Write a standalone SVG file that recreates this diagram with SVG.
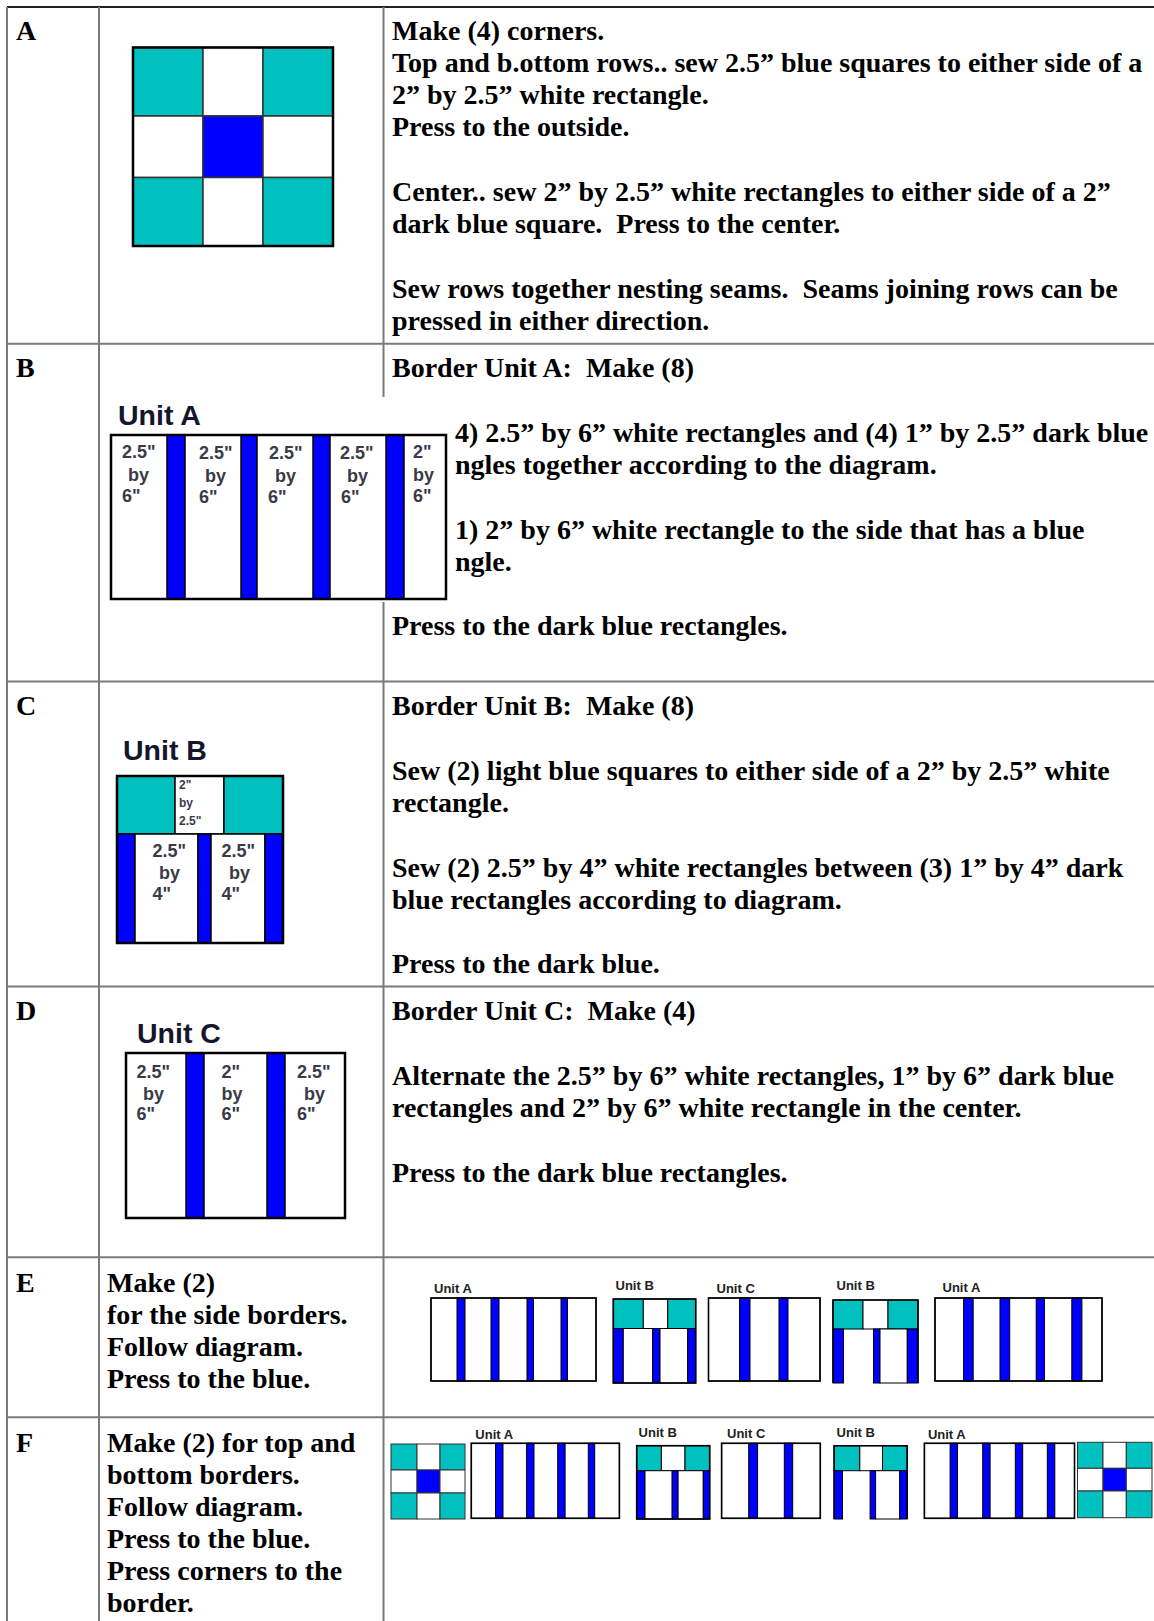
<svg xmlns="http://www.w3.org/2000/svg" width="1154" height="1621" viewBox="0 0 1154 1621">
<style>
.grid{stroke:#7a7a7a;stroke-width:2;fill:none}
.topline{stroke:#222;stroke-width:2}
.t{font-family:"Liberation Serif","Times New Roman",serif;font-weight:bold;font-size:28px;fill:#000;white-space:pre}
.u{font-family:"Liberation Sans",Arial,sans-serif;font-weight:bold;font-size:28.5px;fill:#15152e}
.lab{font-family:"Liberation Sans",Arial,sans-serif;font-weight:bold;font-size:18px;fill:#3a3a48}
.lab11{font-family:"Liberation Sans",Arial,sans-serif;font-weight:bold;font-size:12px;fill:#3a3a48}
.su{font-family:"Liberation Sans",Arial,sans-serif;font-weight:bold;font-size:13px;fill:#222}
.tl{fill:#00c0c0;stroke:#000;stroke-width:1.5}
.bl{fill:#0000ff;stroke:#000;stroke-width:1.5}
.wh{fill:#fff;stroke:#000;stroke-width:1.5}
.ol{fill:none;stroke:#000;stroke-width:2.5}
.cg .tl,.cg .bl,.cg .wh{stroke:#333}
.s .tl,.s .bl,.s .wh{stroke-width:1}
.s .ol{stroke-width:1.6}
.nf{fill:#fff;stroke:none}
</style>
<rect width="1154" height="1621" fill="#fff"/>

<g id="table-grid">
<line class="topline" x1="7" y1="7" x2="1154" y2="7"/>
<line class="grid" x1="7" y1="7" x2="7" y2="1621"/>
<line class="grid" x1="99" y1="7" x2="99" y2="1621"/>
<line class="grid" x1="383.5" y1="7" x2="383.5" y2="397"/>
<line class="grid" x1="383.5" y1="602" x2="383.5" y2="1621"/>
<line class="grid" x1="7" y1="343.7" x2="1154" y2="343.7"/>
<line class="grid" x1="7" y1="681.5" x2="1154" y2="681.5"/>
<line class="grid" x1="7" y1="986.5" x2="1154" y2="986.5"/>
<line class="grid" x1="7" y1="1257.3" x2="1154" y2="1257.3"/>
<line class="grid" x1="7" y1="1417.3" x2="1154" y2="1417.3"/>
</g>

<g id="row-A">
<text class="t" x="16" y="39.5">A</text>
<g id="corner-block-A" class="cg">
<rect class="tl" x="133" y="47.5" width="70" height="68.5"/>
<rect class="wh" x="203" y="47.5" width="60" height="68.5"/>
<rect class="tl" x="263" y="47.5" width="70" height="68.5"/>
<rect class="wh" x="133" y="116" width="70" height="61.5"/>
<rect class="bl" x="203" y="116" width="60" height="61.5"/>
<rect class="wh" x="263" y="116" width="70" height="61.5"/>
<rect class="tl" x="133" y="177.5" width="70" height="68.5"/>
<rect class="wh" x="203" y="177.5" width="60" height="68.5"/>
<rect class="tl" x="263" y="177.5" width="70" height="68.5"/>
<rect class="ol" x="133" y="47.5" width="200" height="198.5"/>
</g>
<text class="t" x="392" y="39.5">Make (4) corners.</text>
<text class="t" x="392" y="71.8">Top and b.ottom rows.. sew 2.5” blue squares to either side of a</text>
<text class="t" x="392" y="104.1">2” by 2.5” white rectangle.</text>
<text class="t" x="392" y="136.4">Press to the outside.</text>
<text class="t" x="392" y="201">Center.. sew 2” by 2.5” white rectangles to either side of a 2”</text>
<text class="t" x="392" y="233.3">dark blue square.  Press to the center.</text>
<text class="t" x="392" y="297.9">Sew rows together nesting seams.  Seams joining rows can be</text>
<text class="t" x="392" y="330.2">pressed in either direction.</text>
</g>

<g id="row-B">
<text class="t" x="16" y="377">B</text>
<g id="unit-A-large">
<text class="u" x="118" y="425">Unit A</text>
<rect class="wh" x="111" y="435" width="335" height="164"/>
<rect class="bl" x="167" y="435" width="18" height="164"/>
<rect class="bl" x="241" y="435" width="16" height="164"/>
<rect class="bl" x="313" y="435" width="17" height="164"/>
<rect class="bl" x="386" y="435" width="18" height="164"/>
<rect class="ol" x="111" y="435" width="335" height="164"/>
<text class="lab" x="122" y="458">2.5"</text><text class="lab" x="128" y="480.5">by</text><text class="lab" x="122" y="502">6"</text>
<text class="lab" x="199" y="459">2.5"</text><text class="lab" x="205" y="481.5">by</text><text class="lab" x="199" y="503">6"</text>
<text class="lab" x="269" y="459">2.5"</text><text class="lab" x="275" y="481.5">by</text><text class="lab" x="268" y="503">6"</text>
<text class="lab" x="340" y="459">2.5"</text><text class="lab" x="347" y="481.5">by</text><text class="lab" x="341" y="503">6"</text>
<text class="lab" x="413" y="458">2"</text><text class="lab" x="413" y="480.5">by</text><text class="lab" x="413" y="502">6"</text>
</g>
<text class="t" x="392" y="377">Border Unit A:  Make (8)</text>
<text class="t" x="455" y="441.6">4) 2.5” by 6” white rectangles and (4) 1” by 2.5” dark blue</text>
<text class="t" x="455" y="473.9">ngles together according to the diagram.</text>
<text class="t" x="455" y="538.5">1) 2” by 6” white rectangle to the side that has a blue</text>
<text class="t" x="455" y="570.8">ngle.</text>
<text class="t" x="392" y="635.4">Press to the dark blue rectangles.</text>
</g>

<g id="row-C">
<text class="t" x="16" y="715">C</text>
<g id="unit-B-large">
<text class="u" x="123" y="760">Unit B</text>
<rect class="tl" x="117" y="776" width="58" height="58"/>
<rect class="wh" x="175" y="776" width="49" height="58"/>
<rect class="tl" x="224" y="776" width="59" height="58"/>
<rect class="bl" x="117" y="834" width="18" height="109"/>
<rect class="wh" x="135" y="834" width="63" height="109"/>
<rect class="bl" x="198" y="834" width="13" height="109"/>
<rect class="wh" x="211" y="834" width="54" height="109"/>
<rect class="bl" x="265" y="834" width="18" height="109"/>
<rect class="ol" x="117" y="776" width="166" height="167"/>
<text class="lab11" x="179" y="789">2"</text><text class="lab11" x="179" y="806.5">by</text><text class="lab11" x="179" y="825">2.5"</text>
<text class="lab" x="152.5" y="857">2.5"</text><text class="lab" x="159" y="879">by</text><text class="lab" x="152.5" y="900">4"</text>
<text class="lab" x="221.5" y="857">2.5"</text><text class="lab" x="229" y="879">by</text><text class="lab" x="221.5" y="900">4"</text>
</g>
<text class="t" x="392" y="715">Border Unit B:  Make (8)</text>
<text class="t" x="392" y="779.6">Sew (2) light blue squares to either side of a 2” by 2.5” white</text>
<text class="t" x="392" y="811.9">rectangle.</text>
<text class="t" x="392" y="876.5">Sew (2) 2.5” by 4” white rectangles between (3) 1” by 4” dark</text>
<text class="t" x="392" y="908.8">blue rectangles according to diagram.</text>
<text class="t" x="392" y="973.4">Press to the dark blue.</text>
</g>

<g id="row-D">
<text class="t" x="16" y="1019.5">D</text>
<g id="unit-C-large">
<text class="u" x="137" y="1043">Unit C</text>
<rect class="wh" x="126" y="1053" width="219" height="165"/>
<rect class="bl" x="186" y="1053" width="18" height="165"/>
<rect class="bl" x="267" y="1053" width="18" height="165"/>
<rect class="ol" x="126" y="1053" width="219" height="165"/>
<text class="lab" x="136.5" y="1078">2.5"</text><text class="lab" x="143" y="1099.5">by</text><text class="lab" x="136.5" y="1120">6"</text>
<text class="lab" x="221.5" y="1078">2"</text><text class="lab" x="221.5" y="1099.5">by</text><text class="lab" x="221.5" y="1120">6"</text>
<text class="lab" x="297" y="1078">2.5"</text><text class="lab" x="304" y="1099.5">by</text><text class="lab" x="297" y="1120">6"</text>
</g>
<text class="t" x="392" y="1020">Border Unit C:  Make (4)</text>
<text class="t" x="392" y="1084.6">Alternate the 2.5” by 6” white rectangles, 1” by 6” dark blue</text>
<text class="t" x="392" y="1116.9">rectangles and 2” by 6” white rectangle in the center.</text>
<text class="t" x="392" y="1181.5">Press to the dark blue rectangles.</text>
</g>

<g id="row-E">
<text class="t" x="16" y="1292">E</text>
<text class="t" x="107" y="1292">Make (2)</text>
<text class="t" x="107" y="1324">for the side borders.</text>
<text class="t" x="107" y="1356">Follow diagram.</text>
<text class="t" x="107" y="1388">Press to the blue.</text>
<g id="side-border" class="s">
<g id="E-unitA-1">
<text class="su" x="434" y="1293">Unit A</text>
<rect class="wh" x="431" y="1298" width="165" height="83"/>
<rect class="bl" x="457" y="1298" width="8" height="83"/>
<rect class="bl" x="491" y="1298" width="8" height="83"/>
<rect class="bl" x="527" y="1298" width="6.5" height="83"/>
<rect class="bl" x="561" y="1298" width="6.5" height="83"/>
<rect class="ol" x="431" y="1298" width="165" height="83"/>
</g>
<g id="E-unitB-1">
<text class="su" x="615.5" y="1290">Unit B</text>
<rect class="tl" x="613.3" y="1299" width="30" height="29.5"/>
<rect class="wh" x="643.3" y="1299" width="24.4" height="29.5"/>
<rect class="tl" x="667.7" y="1299" width="28" height="29.5"/>
<rect class="bl" x="613.3" y="1328.5" width="10" height="54.5"/>
<rect class="wh" x="623.3" y="1328.5" width="29.4" height="54.5"/>
<rect class="bl" x="652.7" y="1328.5" width="7.3" height="54.5"/>
<rect class="wh" x="660" y="1328.5" width="27.7" height="54.5"/>
<rect class="bl" x="687.7" y="1328.5" width="8" height="54.5"/>
<rect class="ol" x="613.3" y="1299" width="82.4" height="84"/>
</g>
<g id="E-unitC">
<text class="su" x="716.5" y="1292.5">Unit C</text>
<rect class="wh" x="708.5" y="1298" width="111.5" height="83"/>
<rect class="bl" x="739.5" y="1298" width="10.5" height="83"/>
<rect class="bl" x="779" y="1298" width="9" height="83"/>
<rect class="ol" x="708.5" y="1298" width="111.5" height="83"/>
</g>
<g id="E-unitB-2">
<text class="su" x="836.5" y="1290">Unit B</text>
<rect class="nf" x="833" y="1300" width="85" height="83"/>
<rect class="tl" x="833" y="1300" width="30" height="29"/>
<rect class="wh" x="863" y="1300" width="25" height="29"/>
<rect class="tl" x="888" y="1300" width="30" height="29"/>
<rect class="bl" x="833" y="1329" width="10.5" height="54"/>
<rect class="bl" x="873.5" y="1329" width="6.5" height="54"/>
<rect class="wh" x="880" y="1329" width="27.3" height="54"/>
<rect class="bl" x="907.3" y="1329" width="10.7" height="54"/>
<path class="ol" d="M833,1383 V1300 H918 V1383"/>
</g>
<g id="E-unitA-2">
<text class="su" x="942.5" y="1292">Unit A</text>
<rect class="wh" x="935" y="1298" width="167" height="83"/>
<rect class="bl" x="963.6" y="1298" width="9.6" height="83"/>
<rect class="bl" x="1000" y="1298" width="9.7" height="83"/>
<rect class="bl" x="1036.2" y="1298" width="8.2" height="83"/>
<rect class="bl" x="1071.8" y="1298" width="10.1" height="83"/>
<rect class="ol" x="935" y="1298" width="167" height="83"/>
</g>
</g>
</g>

<g id="row-F">
<text class="t" x="16" y="1452">F</text>
<text class="t" x="107" y="1452">Make (2) for top and</text>
<text class="t" x="107" y="1484">bottom borders.</text>
<text class="t" x="107" y="1516">Follow diagram.</text>
<text class="t" x="107" y="1548">Press to the blue.</text>
<text class="t" x="107" y="1580">Press corners to the</text>
<text class="t" x="107" y="1612">border.</text>
<g id="top-border" class="s">
<g id="F-corner-left" class="cg">
<rect class="tl" x="391" y="1444" width="26" height="26"/>
<rect class="wh" x="417" y="1444" width="23" height="26"/>
<rect class="tl" x="440" y="1444" width="25" height="26"/>
<rect class="wh" x="391" y="1470" width="26" height="23"/>
<rect class="bl" x="417" y="1470" width="23" height="23"/>
<rect class="wh" x="440" y="1470" width="25" height="23"/>
<rect class="tl" x="391" y="1493" width="26" height="26"/>
<rect class="wh" x="417" y="1493" width="23" height="26"/>
<rect class="tl" x="440" y="1493" width="25" height="26"/>
</g>
<g id="F-unitA-1">
<text class="su" x="475.3" y="1439.3">Unit A</text>
<rect class="wh" x="471.3" y="1443.3" width="148.1" height="75"/>
<rect class="bl" x="495.5" y="1443.3" width="7.5" height="75"/>
<rect class="bl" x="526.6" y="1443.3" width="7.4" height="75"/>
<rect class="bl" x="557.7" y="1443.3" width="7.4" height="75"/>
<rect class="bl" x="588.3" y="1443.3" width="6.4" height="75"/>
<rect class="ol" x="471.3" y="1443.3" width="148.1" height="75"/>
</g>
<g id="F-unitB-1">
<text class="su" x="638.6" y="1436.7">Unit B</text>
<rect class="tl" x="636.7" y="1445.7" width="24.7" height="25"/>
<rect class="wh" x="661.4" y="1445.7" width="23.6" height="25"/>
<rect class="tl" x="685" y="1445.7" width="24.7" height="25"/>
<rect class="bl" x="636.7" y="1470.7" width="8.3" height="48.3"/>
<rect class="wh" x="645" y="1470.7" width="27.2" height="48.3"/>
<rect class="bl" x="672.2" y="1470.7" width="5.9" height="48.3"/>
<rect class="wh" x="678.1" y="1470.7" width="25.2" height="48.3"/>
<rect class="bl" x="703.3" y="1470.7" width="6.4" height="48.3"/>
<rect class="ol" x="636.7" y="1445.7" width="73" height="73.3"/>
</g>
<g id="F-unitC">
<text class="su" x="727" y="1438.3">Unit C</text>
<rect class="wh" x="721.6" y="1443.3" width="98.7" height="75"/>
<rect class="bl" x="748.7" y="1443.3" width="8.9" height="75"/>
<rect class="bl" x="784.3" y="1443.3" width="8.4" height="75"/>
<rect class="ol" x="721.6" y="1443.3" width="98.7" height="75"/>
</g>
<g id="F-unitB-2">
<text class="su" x="836.6" y="1436.7">Unit B</text>
<rect class="nf" x="834.1" y="1445.7" width="73.1" height="73.3"/>
<rect class="tl" x="834.1" y="1445.7" width="25.7" height="25"/>
<rect class="wh" x="859.8" y="1445.7" width="22.7" height="25"/>
<rect class="tl" x="882.5" y="1445.7" width="24.7" height="25"/>
<rect class="bl" x="834.1" y="1470.7" width="8.4" height="48.3"/>
<rect class="bl" x="870.1" y="1470.7" width="5.5" height="48.3"/>
<rect class="wh" x="875.6" y="1470.7" width="24.2" height="48.3"/>
<rect class="bl" x="899.8" y="1470.7" width="7.4" height="48.3"/>
<path class="ol" d="M834.1,1519 V1445.7 H907.2 V1519"/>
</g>
<g id="F-unitA-2">
<text class="su" x="927.9" y="1439.3">Unit A</text>
<rect class="wh" x="924.4" y="1443.3" width="150.1" height="75"/>
<rect class="bl" x="950.1" y="1443.3" width="7.4" height="75"/>
<rect class="bl" x="982.7" y="1443.3" width="7.4" height="75"/>
<rect class="bl" x="1015.3" y="1443.3" width="7.4" height="75"/>
<rect class="bl" x="1047.3" y="1443.3" width="7.5" height="75"/>
<rect class="ol" x="924.4" y="1443.3" width="150.1" height="75"/>
</g>
<g id="F-corner-right" class="cg">
<rect class="tl" x="1077.5" y="1442.3" width="25.5" height="26"/>
<rect class="wh" x="1103" y="1442.3" width="23.3" height="26"/>
<rect class="tl" x="1126.3" y="1442.3" width="25.7" height="26"/>
<rect class="wh" x="1077.5" y="1468.3" width="25.5" height="22.7"/>
<rect class="bl" x="1103" y="1468.3" width="23.3" height="22.7"/>
<rect class="wh" x="1126.3" y="1468.3" width="25.7" height="22.7"/>
<rect class="tl" x="1077.5" y="1491" width="25.5" height="26.7"/>
<rect class="wh" x="1103" y="1491" width="23.3" height="26.7"/>
<rect class="tl" x="1126.3" y="1491" width="25.7" height="26.7"/>
</g>
</g>
</g>
</svg>
